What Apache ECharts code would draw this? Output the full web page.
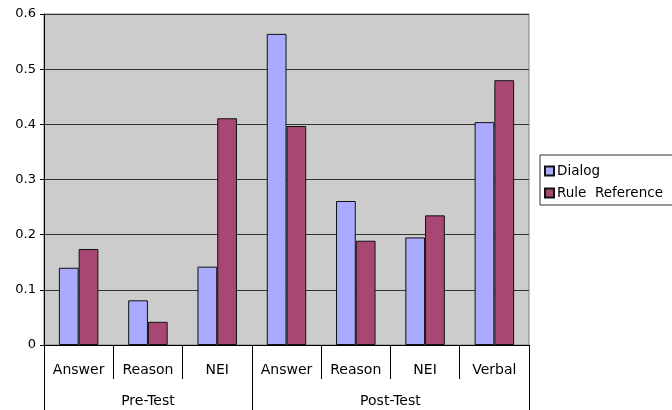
<!DOCTYPE html>
<html>
<head>
<meta charset="utf-8">
<script src="https://cdn.jsdelivr.net/npm/echarts@6/dist/echarts.min.js"></script>
<style>
html,body{margin:0;padding:0;background:#fff;}
#c{width:672px;height:410px;}
</style>
</head>
<body>
<div id="c"></div>
<script>
const categories = ['Answer', 'Reason', 'NEI', 'Answer', 'Reason', 'NEI', 'Verbal'];
const groups = ['Pre-Test', 'Post-Test'];
const groupCenters = [1.5, 5];
const groupBounds = [0, 3, 7];
const dialog = [0.140, 0.081, 0.142, 0.564, 0.261, 0.195, 0.404];
const ruleReference = [0.174, 0.042, 0.411, 0.397, 0.189, 0.235, 0.480];
const yTicks = [0, 0.1, 0.2, 0.3, 0.4, 0.5, 0.6];

const font = 'DejaVu Sans';
const chart = echarts.init(document.getElementById('c'), null, {renderer: 'canvas'});
chart.setOption({
  animation: false,
  backgroundColor: '#ffffff',
  textStyle: {fontFamily: font},
  grid: {
    left: 44, right: 143, top: 14, bottom: 65,
    show: true, backgroundColor: '#cccccc', borderColor: '#808080', borderWidth: 1
  },
  legend: {
    orient: 'vertical',
    left: 540, top: 155,
    itemWidth: 9, itemHeight: 9, itemGap: 8,
    padding: [9, 30, 5, 4],
    borderColor: '#333', borderWidth: 1,
    backgroundColor: '#fff',
    icon: 'rect',
    textStyle: {fontSize: 13.5, color: '#000', fontFamily: font, padding: [0, 0, 0, -2]},
    formatter: function (name) { return name.replace(' ', '  '); },
    data: ['Dialog', 'Rule Reference']
  },
  xAxis: [
    {
      type: 'category',
      data: categories,
      axisLine: {show: true, lineStyle: {color: '#000', width: 1}},
      axisTick: {show: true, interval: 0, length: 34, lineStyle: {color: '#000'}},
      axisLabel: {interval: 0, fontSize: 14, color: '#000', margin: 18, fontFamily: font},
      splitLine: {show: false}
    },
    {
      type: 'value',
      position: 'bottom',
      min: 0, max: 7,
      axisLine: {show: false},
      axisTick: {show: true, length: 65, customValues: groupBounds, lineStyle: {color: '#000'}},
      axisLabel: {
        show: true, fontSize: 14, color: '#000', margin: 49, fontFamily: font,
        customValues: groupCenters,
        formatter: function (v) {
          const i = groupCenters.indexOf(v);
          return i >= 0 ? groups[i] : '';
        }
      },
      splitLine: {show: false}
    }
  ],
  yAxis: {
    type: 'value',
    min: 0, max: 0.6, interval: 0.1,
    axisLine: {show: true, lineStyle: {color: '#000'}},
    axisTick: {show: true, length: 4, lineStyle: {color: '#000'}},
    axisLabel: {
      fontSize: 13, color: '#000', margin: 8, fontFamily: font,
      formatter: function (v) {
        const t = yTicks.find(x => Math.abs(x - v) < 1e-9);
        return t === 0 ? '0' : String(Math.round(v * 10) / 10);
      }
    },
    splitLine: {show: true, lineStyle: {color: '#333', width: 1}}
  },
  series: [
    {
      name: 'Dialog', type: 'bar', xAxisIndex: 0,
      data: dialog,
      barGap: '0%', barCategoryGap: '43%',
      itemStyle: {color: '#aaaaff', borderColor: '#111', borderWidth: 1}
    },
    {
      name: 'Rule Reference', type: 'bar', xAxisIndex: 0,
      data: ruleReference,
      barGap: '0%', barCategoryGap: '43%',
      itemStyle: {color: '#a84872', borderColor: '#111', borderWidth: 1}
    }
  ]
});
</script>
</body>
</html>
